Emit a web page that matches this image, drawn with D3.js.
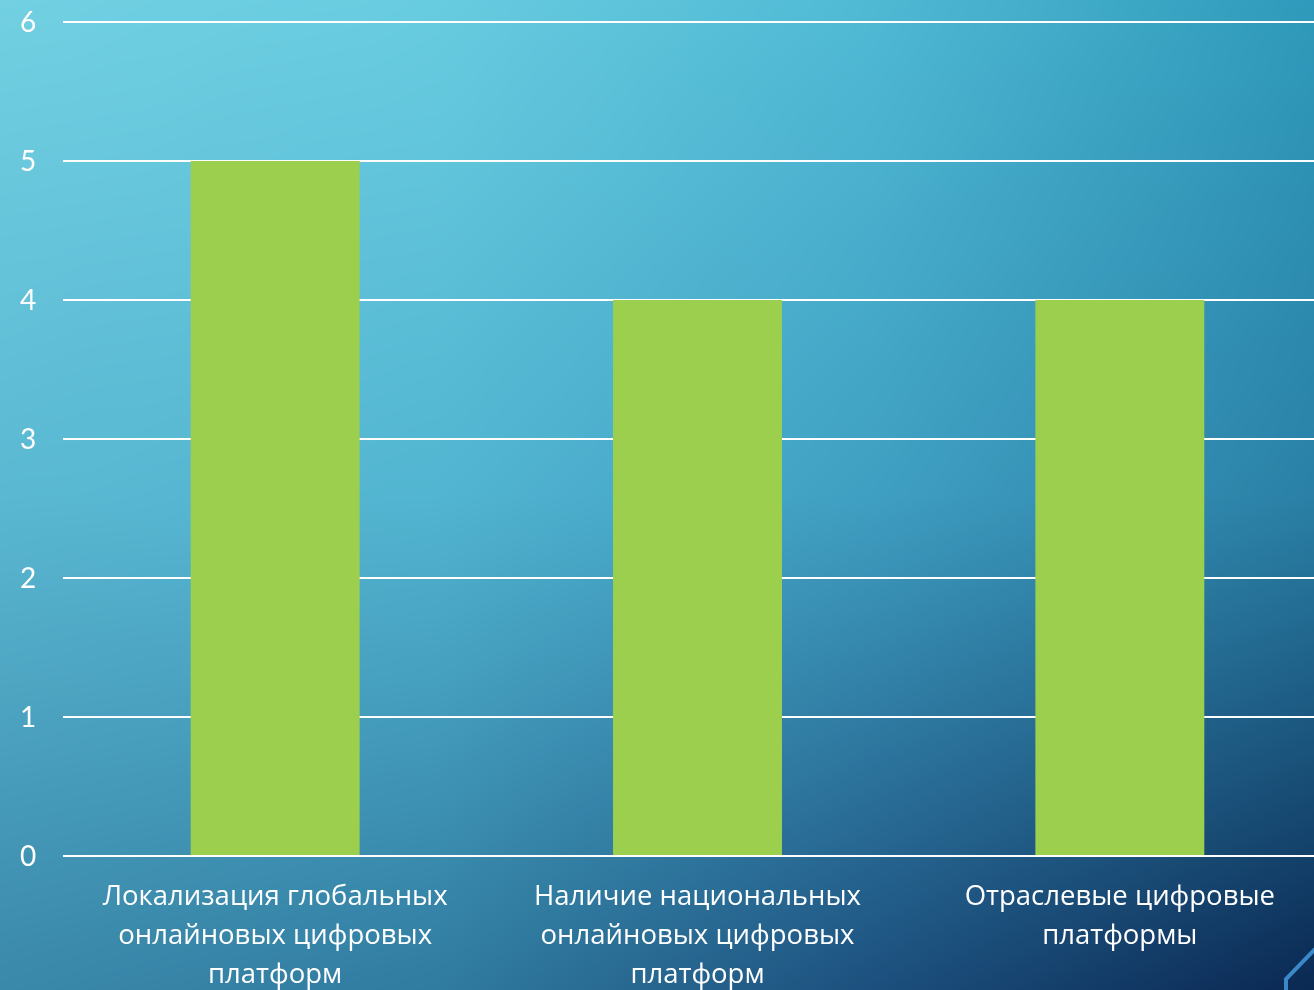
<!DOCTYPE html>
<html><head><meta charset="utf-8">
<script src="https://cdn.jsdelivr.net/npm/d3@7"></script>
<style>html,body{margin:0;padding:0;overflow:hidden;background:#0b2a55}
#wrap{position:relative;width:1314px;height:990px}
canvas,svg{position:absolute;left:0;top:0}</style>
</head><body>
<div id="wrap"></div>
<script>
const categories = [
  ["Локализация глобальных", "онлайновых цифровых", "платформ"],
  ["Наличие национальных", "онлайновых цифровых", "платформ"],
  ["Отраслевые цифровые", "платформы"]
];
const values = [5, 4, 4];
const tickValues = [0, 1, 2, 3, 4, 5, 6];

const W = 1314, H = 990;
const wrap = d3.select("#wrap");

// background shading (estimated colour grid, interpolated)
const bgGrid = [
  ["#72d0e2", "#68cce0", "#4fb9d4", "#2f9abb"],
  ["#5ab8d2", "#52b5d1", "#3f9fc2", "#2a80a6"],
  ["#3a88aa", "#307ba0", "#1c4f7d", "#0a2852"]
];
const canvas = wrap.append("canvas").attr("width", W).attr("height", H).node();
const ctx = canvas.getContext("2d");
const img = ctx.createImageData(W, H);
const gridRGB = bgGrid.map(r => r.map(c => d3.rgb(c)));
const nx = gridRGB[0].length - 1, ny = gridRGB.length - 1;
for (let py = 0; py < H; py++) {
  const fy = py / (H - 1) * ny, iy = Math.min(Math.floor(fy), ny - 1), ty = fy - iy;
  for (let px = 0; px < W; px++) {
    const fx = px / (W - 1) * nx, ix = Math.min(Math.floor(fx), nx - 1), tx = fx - ix;
    const a = gridRGB[iy][ix], b = gridRGB[iy][ix + 1], c = gridRGB[iy + 1][ix], d = gridRGB[iy + 1][ix + 1];
    const k = (py * W + px) * 4;
    img.data[k] = (a.r * (1 - tx) + b.r * tx) * (1 - ty) + (c.r * (1 - tx) + d.r * tx) * ty;
    img.data[k + 1] = (a.g * (1 - tx) + b.g * tx) * (1 - ty) + (c.g * (1 - tx) + d.g * tx) * ty;
    img.data[k + 2] = (a.b * (1 - tx) + b.b * tx) * (1 - ty) + (c.b * (1 - tx) + d.b * tx) * ty;
    img.data[k + 3] = 255;
  }
}
ctx.putImageData(img, 0, 0);

const svg = wrap.append("svg").attr("width", W).attr("height", H);

const y = d3.scaleLinear().domain([0, 6]).range([856, 22]);
const x = d3.scaleBand().domain(d3.range(categories.length)).range([64, 1331]).paddingInner(0.6).paddingOuter(0.3);

// gridlines
svg.append("g").selectAll("line").data(tickValues).join("line")
  .attr("x1", 63).attr("x2", W)
  .attr("y1", d => y(d)).attr("y2", d => y(d))
  .attr("stroke", "#ffffff").attr("stroke-width", 2);

// bars
svg.append("g").selectAll("rect").data(values).join("rect")
  .attr("x", (d, i) => x(i)).attr("width", x.bandwidth())
  .attr("y", d => y(d)).attr("height", d => y(0) - y(d) - 1)
  .attr("fill", "#9dcf4e");

// y tick labels
svg.append("g").selectAll("text").data(tickValues).join("text")
  .attr("x", 28).attr("y", d => y(d)).attr("dy", "0.36em")
  .attr("text-anchor", "middle").attr("fill", "#fff")
  .style("font-family", "Lato, 'Open Sans', sans-serif").style("font-size", "28px")
  .text(d => d);

// category labels
const cl = svg.append("g").selectAll("text").data(categories).join("text")
  .attr("x", (d, i) => x(i) + x.bandwidth() / 2).attr("y", 905)
  .attr("text-anchor", "middle").attr("fill", "#fff")
  .style("font-family", "'Open Sans', sans-serif").style("font-size", "27.5px");
cl.selectAll("tspan").data(d => d).join("tspan")
  .attr("x", function () { return d3.select(this.parentNode).attr("x"); })
  .attr("dy", (d, i) => i === 0 ? 0 : 39)
  .text(d => d);

// decorative corner shape
svg.append("path").attr("d", "M1286,992 L1286,979 L1318,946")
  .attr("fill", "none").attr("stroke", "#3a88c8").attr("stroke-width", 4);
</script>
</body></html>
